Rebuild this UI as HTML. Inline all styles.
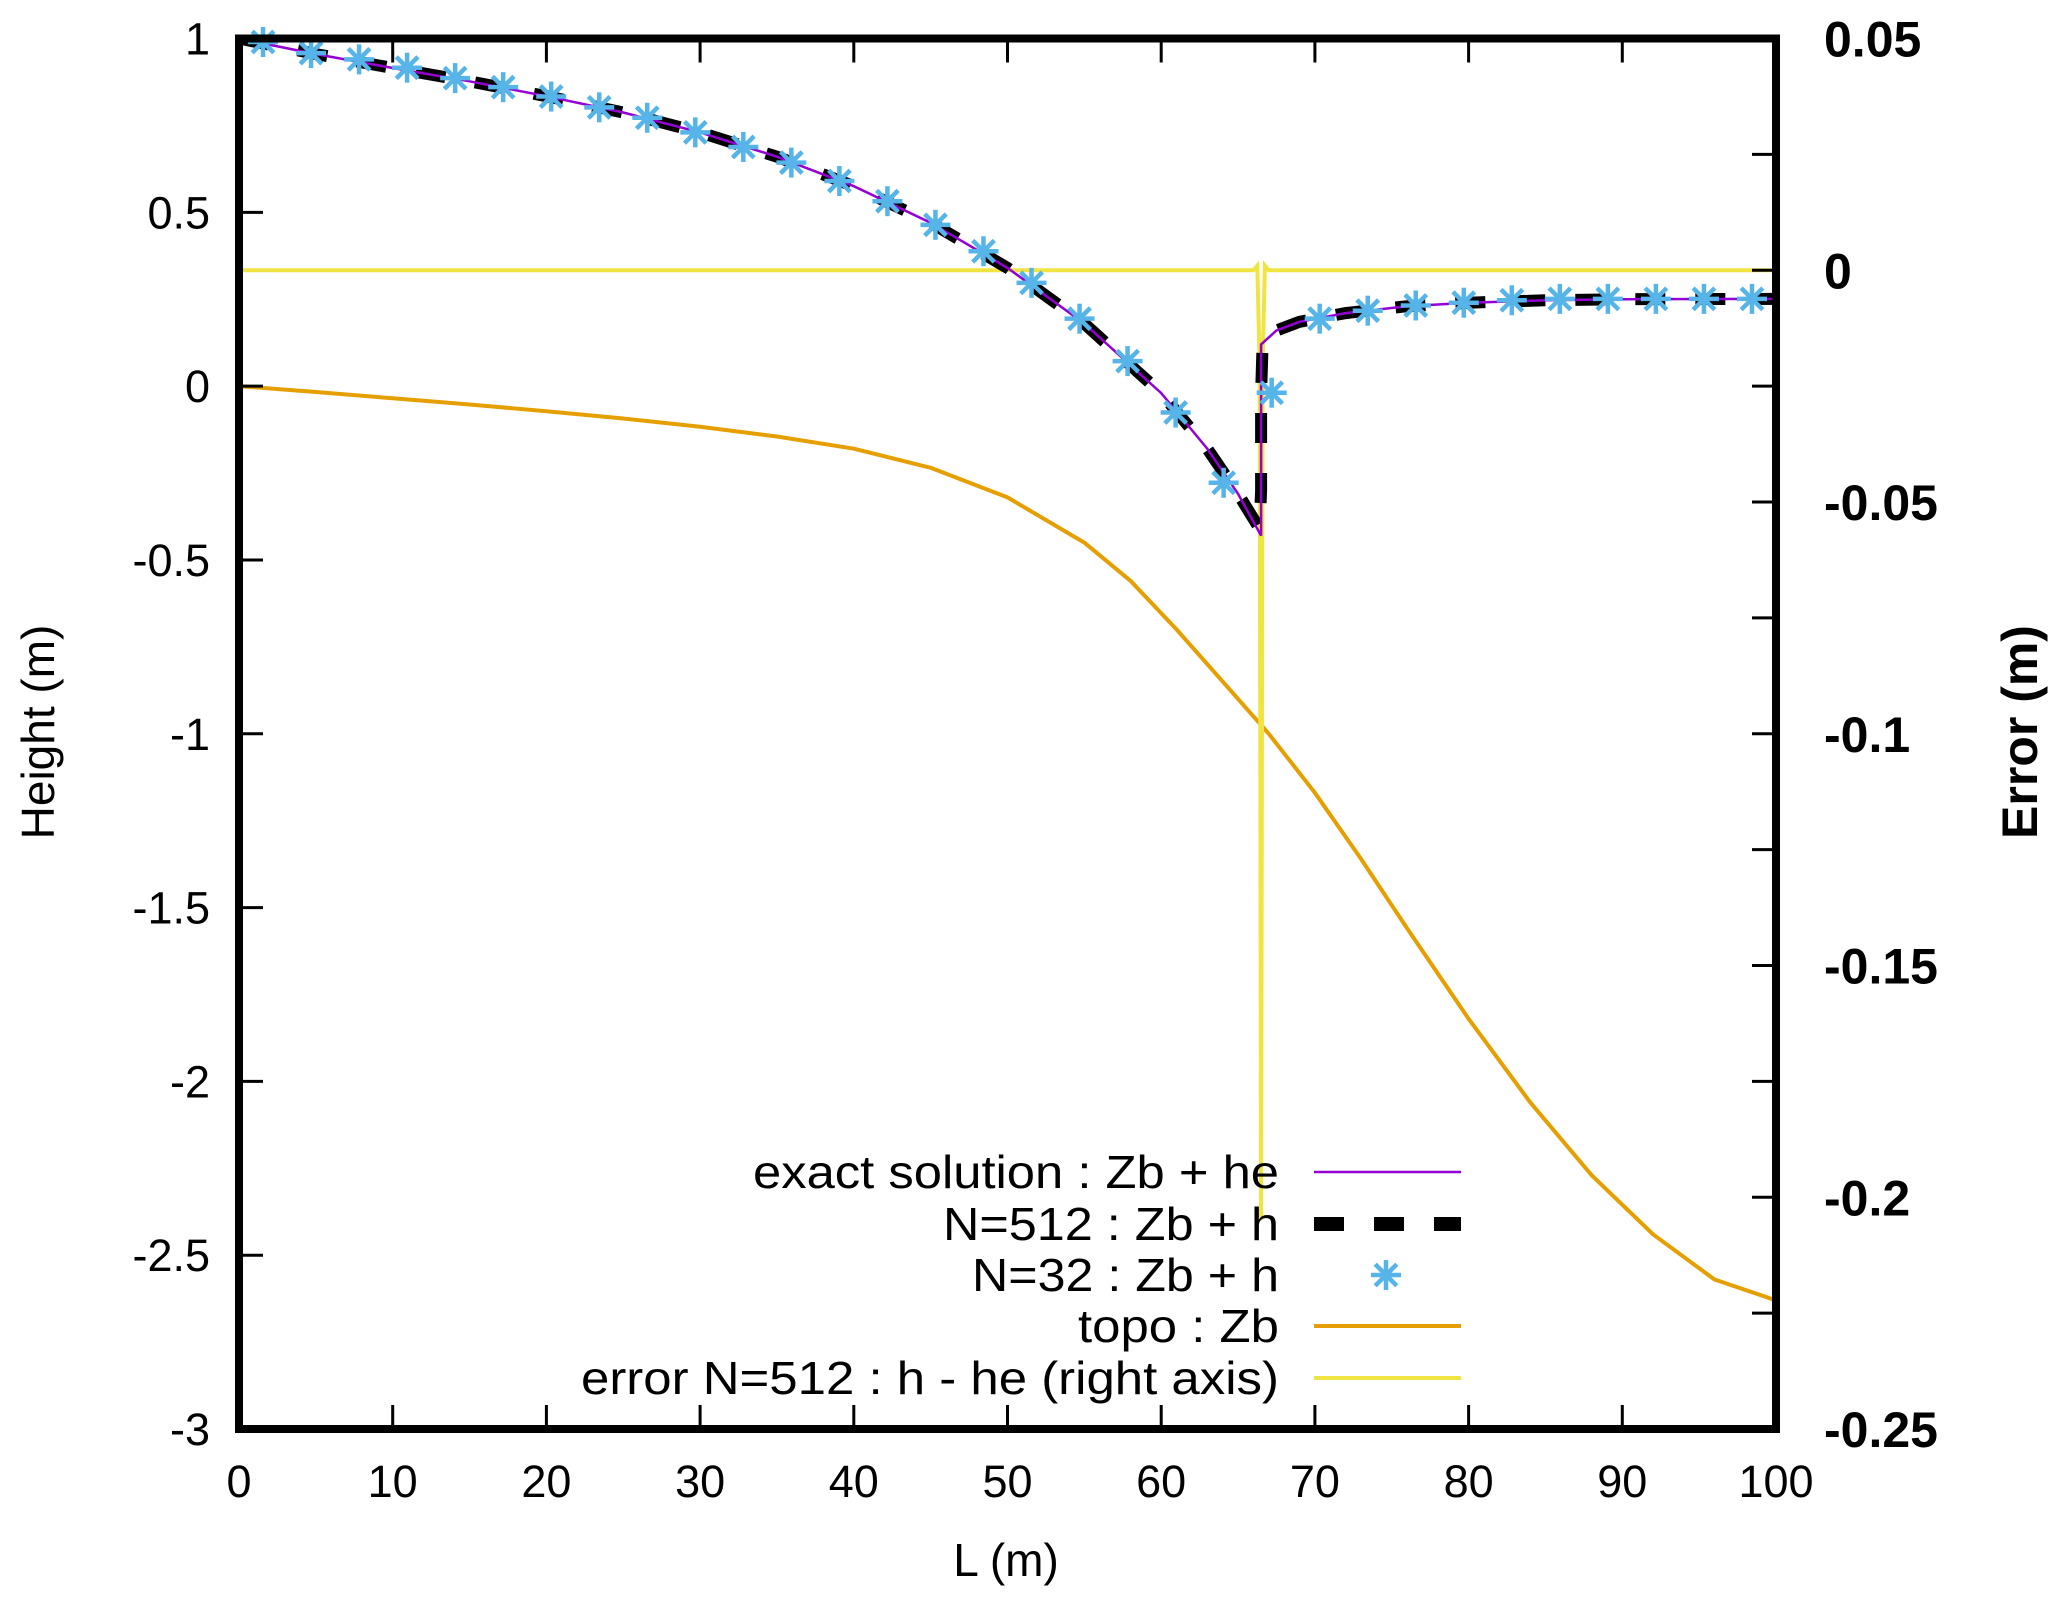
<!DOCTYPE html>
<html><head><meta charset="utf-8"><style>
html,body{margin:0;padding:0;background:#fff;}
svg{display:block;font-family:"Liberation Sans",Arial,sans-serif;}
</style></head><body>
<svg id="chart" width="2067" height="1603" viewBox="0 0 2067 1603" xmlns="http://www.w3.org/2000/svg">
<g id="plot"></g>
<g id="axes"></g>
<g id="legend"></g>
</svg>
<script>
const xTicks=[0,10,20,30,40,50,60,70,80,90,100];
const yTicks=[1,0.5,0,-0.5,-1,-1.5,-2,-2.5,-3];
const yTickLabels=["1","0.5","0","-0.5","-1","-1.5","-2","-2.5","-3"];
const y2Ticks=[0.05,0.025,0,-0.025,-0.05,-0.075,-0.1,-0.125,-0.15,-0.175,-0.2,-0.225,-0.25];
const y2Labels=["0.05","","0","","-0.05","","-0.1","","-0.15","","-0.2","","-0.25"];
const exactX=[0,5,10,15,20,25,30,35,40,45,50,55,60,63,65,66.5,66.5,67.5,69,72,76,80,85,90,100];
const exactY=[1.0,0.955,0.915,0.877,0.834,0.787,0.73,0.66,0.575,0.47,0.34,0.18,-0.02,-0.18,-0.31,-0.43,0.12,0.16,0.185,0.21,0.23,0.24,0.247,0.25,0.251];
const n512X=[0,5,10,15,20,25,30,35,40,45,50,55,60,63,65,66.4,66.5,66.5,66.6,67.5,69,72,76,80,85,90,100];
const n512Y=[1.0,0.955,0.915,0.877,0.834,0.787,0.73,0.66,0.575,0.47,0.34,0.18,-0.02,-0.18,-0.31,-0.41,-0.3,-0.02,0.12,0.16,0.185,0.21,0.23,0.24,0.247,0.25,0.251];
const n32X=[1.5625,4.6875,7.8125,10.9375,14.0625,17.1875,20.3125,23.4375,26.5625,29.6875,32.8125,35.9375,39.0625,42.1875,45.3125,48.4375,51.5625,54.6875,57.8125,60.9375,64.0625,67.1875,70.3125,73.4375,76.5625,79.6875,82.8125,85.9375,89.0625,92.1875,95.3125,98.4375];
const n32Y=[0.99,0.958,0.94,0.916,0.886,0.86,0.833,0.802,0.772,0.73,0.688,0.643,0.59,0.532,0.464,0.388,0.297,0.194,0.072,-0.076,-0.278,-0.019,0.194,0.217,0.232,0.24,0.247,0.251,0.251,0.251,0.251,0.251];
const topoX=[0,5,10,15,20,25,30,35,40,45,50,55,58,61,64,67,70,73,76,80,84,88,92,96,100];
const topoY=[0,-0.017,-0.035,-0.053,-0.072,-0.093,-0.117,-0.145,-0.18,-0.235,-0.32,-0.45,-0.56,-0.7,-0.85,-1.0,-1.17,-1.36,-1.56,-1.82,-2.06,-2.27,-2.44,-2.57,-2.63];
const errX=[0,66.0,66.25,66.4,66.5,66.6,66.75,67.0,100];
const errY=[0,0,0.001,-0.02,-0.205,-0.02,0.001,0,0];

const L=239,R=1776,T=38.5,B=1429;
const sx=v=>L+(v-0)/(100-0)*(R-L);
const sy=v=>T+(1-v)/(1-(-3))*(B-T);
const sy2=v=>T+(0.05-v)/(0.05-(-0.25))*(B-T);
const NS="http://www.w3.org/2000/svg";
function mk(tag,attrs,parent){const e=document.createElementNS(NS,tag);for(const k in attrs)e.setAttribute(k,attrs[k]);parent.appendChild(e);return e;}
const plot=document.getElementById('plot'),axes=document.getElementById('axes'),leg=document.getElementById('legend');
function pts(xs,ys,f){return xs.map((x,i)=>sx(x).toFixed(1)+","+f(ys[i]).toFixed(1)).join(" ");}

let cp=mk('clipPath',{id:'clip'},plot);mk('rect',{x:L,y:T,width:R-L,height:B-T},cp);
const g=mk('g',{'clip-path':'url(#clip)'},plot);

let p=mk('polyline',{points:pts(topoX,topoY,sy),fill:'none',stroke:'#e69f00','stroke-width':4,'stroke-linejoin':'round'},g);


p=mk('polyline',{points:pts(errX,errY,sy2),fill:'none',stroke:'#f0e442','stroke-width':4},g);


p=mk('polyline',{points:pts(n512X,n512Y,sy),fill:'none',stroke:'#000','stroke-width':12,'stroke-dasharray':'30 30'},g);


p=mk('polyline',{points:pts(exactX,exactY,sy),fill:'none',stroke:'#9400d3','stroke-width':2.5},g);


function star(cx,cy,parent){const s=mk('g',{stroke:'#56b4e9','stroke-width':4.5},parent);const r=15;
 mk('line',{x1:cx-r,y1:cy,x2:cx+r,y2:cy},s);mk('line',{x1:cx,y1:cy-r,x2:cx,y2:cy+r},s);
 mk('line',{x1:cx-r*0.72,y1:cy-r*0.72,x2:cx+r*0.72,y2:cy+r*0.72},s);mk('line',{x1:cx-r*0.72,y1:cy+r*0.72,x2:cx+r*0.72,y2:cy-r*0.72},s);return s;}
n32X.forEach((x,i)=>{const s=star(sx(x),sy(n32Y[i]),plot);
 
 });

let fr=mk('rect',{x:L,y:T,width:R-L,height:B-T,fill:'none',stroke:'#000','stroke-width':8},axes);


const tl=24;
xTicks.forEach(v=>{const x=sx(v);
 mk('line',{x1:x,y1:B,x2:x,y2:B-tl,stroke:'#000','stroke-width':3},axes);
 mk('line',{x1:x,y1:T,x2:x,y2:T+tl,stroke:'#000','stroke-width':3},axes);
 const t=mk('text',{x:x,y:1497,'font-size':45,'text-anchor':'middle'},axes);t.textContent=String(v);
 
 });
yTicks.forEach((v,i)=>{const y=sy(v);
 mk('line',{x1:L,y1:y,x2:L+tl,y2:y,stroke:'#000','stroke-width':3},axes);
 const t=mk('text',{x:210,y:y+16,'font-size':45,'text-anchor':'end'},axes);t.textContent=yTickLabels[i];
 
 });
y2Ticks.forEach((v,i)=>{const y=sy2(v);
 mk('line',{x1:R,y1:y,x2:R-tl,y2:y,stroke:'#000','stroke-width':3},axes);
 if(y2Labels[i]){const t=mk('text',{x:1824,y:y+18,'font-size':50,'font-weight':'bold'},axes);t.textContent=y2Labels[i];
 
 }});
let t=mk('text',{x:1006,y:1576,'font-size':46,'text-anchor':'middle'},axes);t.textContent='L (m)';


t=mk('text',{x:0,y:0,'font-size':46,'text-anchor':'middle',transform:'translate(54,732) rotate(-90)'},axes);t.textContent='Height (m)';


t=mk('text',{x:0,y:0,'font-size':50,'font-weight':'bold','text-anchor':'middle',transform:'translate(2037,732) rotate(-90)'},axes);t.textContent='Error (m)';



const legText=["exact solution : Zb + he","N=512 : Zb + h","N=32 : Zb + h","topo : Zb","error N=512 : h - he (right axis)"];
const legW=[526,336,307,201,698];
const legY=[1172,1224,1275,1326,1378];
legText.forEach((s,i)=>{const e=mk('text',{x:1279,y:legY[i]+16,'font-size':46,'text-anchor':'end',textLength:legW[i],lengthAdjust:'spacingAndGlyphs'},leg);e.textContent=s;
 
 });
mk('line',{x1:1314,y1:legY[0],x2:1461,y2:legY[0],stroke:'#9400d3','stroke-width':2.5},leg);
mk('line',{x1:1314,y1:legY[1],x2:1461,y2:legY[1],stroke:'#000','stroke-width':14,'stroke-dasharray':'30 30'},leg);
star(1386,legY[2],leg);
mk('line',{x1:1314,y1:legY[3],x2:1461,y2:legY[3],stroke:'#e69f00','stroke-width':4},leg);
mk('line',{x1:1314,y1:legY[4],x2:1461,y2:legY[4],stroke:'#f0e442','stroke-width':4},leg);
</script>
</body></html>
